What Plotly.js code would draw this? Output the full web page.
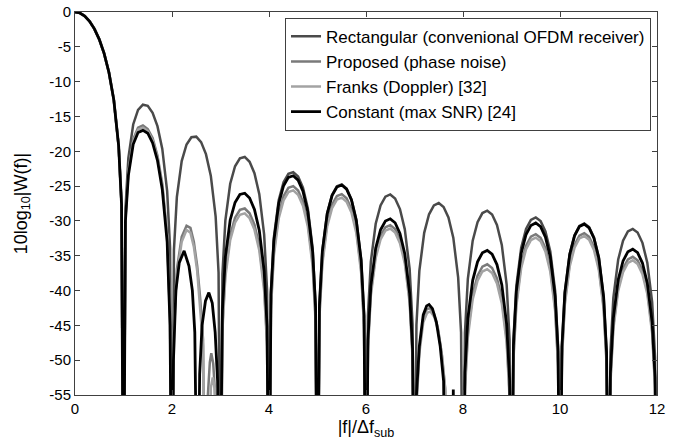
<!DOCTYPE html>
<html>
<head>
<meta charset="utf-8">
<script src="https://cdn.plot.ly/plotly-3.0.1.min.js"></script>
<style>html,body{margin:0;padding:0;background:#fff;}#chart{width:692px;height:445px;}</style>
</head>
<body>
<div id="chart"></div>
<script>
// ---- series names ----
const seriesNames = [
  "Rectangular (convenional OFDM receiver)",
  "Proposed (phase noise)",
  "Franks (Doppler) [32]",
  "Constant (max SNR) [24]"
];

// ---- Rectangular ----
const rectX = [
  0,0.1,0.2,0.3,0.4,0.5,0.6,0.7,0.8,0.9,0.96,
  1,1.04,1.1,1.2,1.3,1.4,1.5,1.6,1.7,1.8,1.9,1.96,
  2,2.04,2.1,2.2,2.3,2.4,2.5,2.6,2.7,2.8,2.9,2.96,
  3,3.04,3.1,3.2,3.3,3.4,3.5,3.6,3.7,3.8,3.9,3.96,
  4,4.04,4.1,4.2,4.3,4.4,4.5,4.6,4.7,4.8,4.9,4.96,
  5,5.04,5.1,5.2,5.3,5.4,5.5,5.6,5.7,5.8,5.9,5.96,
  6,6.04,6.1,6.2,6.3,6.4,6.5,6.6,6.7,6.8,6.9,6.96,
  7,7.04,7.1,7.2,7.3,7.4,7.5,7.6,7.7,7.8,7.9,7.96,
  8,8.04,8.1,8.2,8.3,8.4,8.5,8.6,8.7,8.8,8.9,8.96,
  9,9.04,9.1,9.2,9.3,9.4,9.5,9.6,9.7,9.8,9.9,9.96,
  10,10.04,10.1,10.2,10.3,10.4,10.5,10.6,10.7,10.8,10.9,10.96,
  11,11.04,11.1,11.2,11.3,11.4,11.5,11.6,11.7,11.8,11.9,11.96,
  12
];
const rectY = [
  0,-0.14,-0.58,-1.33,-2.42,-3.92,-5.94,-8.69,-12.62,-19.23,-27.63,
  -80,-28.32,-20.97,-16.15,-14.06,-13.31,-13.47,-14.47,-16.39,-19.67,-25.72,-33.83,
  -80,-34.18,-26.59,-21.41,-19.02,-17.99,-17.90,-18.68,-20.41,-23.51,-29.39,-37.41,
  -80,-37.64,-29.97,-24.67,-22.15,-21.01,-20.82,-21.51,-23.15,-26.16,-31.96,-39.94,
  -80,-40.11,-32.40,-27.03,-24.45,-23.25,-23.01,-23.64,-25.23,-28.19,-33.95,-41.89,
  -80,-42.03,-34.29,-28.88,-26.27,-25.03,-24.75,-25.35,-26.90,-29.83,-35.56,-43.49,
  -80,-43.60,-35.85,-30.41,-27.77,-26.51,-26.20,-26.77,-28.30,-31.21,-36.92,-44.84,
  -80,-44.94,-37.17,-31.71,-29.05,-27.77,-27.44,-28.00,-29.51,-32.41,-38.10,-46.00,
  -80,-46.09,-38.31,-32.84,-30.17,-28.87,-28.53,-29.07,-30.57,-33.45,-39.13,-47.03,
  -80,-47.11,-39.32,-33.84,-31.15,-29.85,-29.50,-30.03,-31.52,-34.39,-40.06,-47.95,
  -80,-48.02,-40.23,-34.74,-32.04,-30.72,-30.37,-30.89,-32.37,-35.23,-40.89,-48.78,
  -80,-48.84,-41.05,-35.55,-32.85,-31.52,-31.16,-31.67,-33.15,-36.00,-41.65,-49.54,
  -80
];

// ---- Proposed (phase noise) ----
const propX = [
  0,0.1,0.2,0.3,0.4,0.5,0.6,0.7,0.8,0.9,0.96,
  1,1.04,1.1,1.2,1.3,1.4,1.5,1.6,1.7,1.8,1.9,1.96,
  2,2.04,2.1,2.2,2.3,2.38,2.45,2.52,2.58,2.64,2.69,2.74,2.78,2.81,2.85,2.89,2.92,
  3,3.04,3.1,3.2,3.3,3.4,3.5,3.6,3.7,3.8,3.9,3.96,
  4,4.04,4.1,4.2,4.3,4.4,4.5,4.6,4.7,4.8,4.9,4.96,
  5,5.04,5.1,5.2,5.3,5.4,5.5,5.6,5.7,5.8,5.9,5.96,
  6,6.04,6.1,6.2,6.3,6.4,6.5,6.6,6.7,6.8,6.9,6.96,
  7,7.04,7.1,7.18,7.25,7.32,7.4,7.48,7.56,7.63,7.67,
  8,8.04,8.1,8.2,8.3,8.4,8.5,8.6,8.7,8.8,8.9,8.96,
  9,9.04,9.1,9.2,9.3,9.4,9.5,9.6,9.7,9.8,9.9,9.96,
  10,10.04,10.1,10.2,10.3,10.4,10.5,10.6,10.7,10.8,10.9,10.96,
  11,11.04,11.1,11.2,11.3,11.4,11.5,11.6,11.7,11.8,11.9,11.96,
  12
];
const propY = [
  0,-0.14,-0.58,-1.33,-2.42,-3.92,-5.94,-8.69,-12.62,-19.23,-27.63,
  -80,-29.5,-22.8,-18.3,-16.6,-16.3,-16.8,-18.1,-20.6,-24.7,-32.0,-44.0,
  -80,-45,-37,-32.3,-30.7,-31.0,-33,-36.5,-41,-47,-80,-55,-50.3,-49,-50.5,-55,-80,
  -80,-45.04,-37.37,-32.07,-29.55,-28.41,-28.22,-28.91,-30.55,-33.56,-39.36,-47.34,
  -80,-42.11,-34.40,-29.03,-26.45,-25.25,-25.01,-25.64,-27.23,-30.19,-35.95,-43.89,
  -80,-43.43,-35.69,-30.28,-27.67,-26.43,-26.15,-26.75,-28.30,-31.23,-36.96,-44.89,
  -80,-48.00,-40.25,-34.81,-32.17,-30.91,-30.60,-31.17,-32.70,-35.61,-41.32,-49.24,
  -80,-56,-48.5,-44,-42.7,-42.5,-43.3,-45.3,-49,-54,-80,
  -80,-53.79,-46.01,-40.54,-37.87,-36.57,-36.23,-36.77,-38.27,-41.15,-46.83,-54.73,
  -80,-49.51,-41.72,-36.24,-33.55,-32.25,-31.90,-32.43,-33.92,-36.79,-42.46,-50.35,
  -80,-49.42,-41.63,-36.14,-33.44,-32.12,-31.77,-32.29,-33.77,-36.63,-42.29,-50.18,
  -80,-52.84,-45.05,-39.55,-36.85,-35.52,-35.16,-35.67,-37.15,-40.00,-45.65,-53.54,
  -80
];

// ---- Franks (Doppler) ----
const franksX = [
  0,0.1,0.2,0.3,0.4,0.5,0.6,0.7,0.8,0.9,0.96,
  1,1.04,1.1,1.2,1.3,1.4,1.5,1.6,1.7,1.8,1.9,1.96,
  2,2.04,2.1,2.2,2.3,2.38,2.45,2.52,2.58,2.64,2.68,2.76,2.8,2.84,2.88,2.91,
  3,3.04,3.1,3.2,3.3,3.4,3.5,3.6,3.7,3.8,3.9,3.96,
  4,4.04,4.1,4.2,4.3,4.4,4.5,4.6,4.7,4.8,4.9,4.96,
  5,5.04,5.1,5.2,5.3,5.4,5.5,5.6,5.7,5.8,5.9,5.96,
  6,6.04,6.1,6.2,6.3,6.4,6.5,6.6,6.7,6.8,6.9,6.96,
  7,7.04,7.1,7.18,7.26,7.33,7.41,7.49,7.57,7.64,7.69,
  8,8.04,8.1,8.2,8.3,8.4,8.5,8.6,8.7,8.8,8.9,8.96,
  9,9.04,9.1,9.2,9.3,9.4,9.5,9.6,9.7,9.8,9.9,9.96,
  10,10.04,10.1,10.2,10.3,10.4,10.5,10.6,10.7,10.8,10.9,10.96,
  11,11.04,11.1,11.2,11.3,11.4,11.5,11.6,11.7,11.8,11.9,11.96,
  12
];
const franksY = [
  0,-0.14,-0.58,-1.33,-2.42,-3.92,-5.94,-8.69,-12.62,-19.23,-27.63,
  -80,-29.8,-23.1,-18.6,-16.9,-16.6,-17.1,-18.4,-20.9,-25.0,-32.3,-44.3,
  -80,-46,-37.8,-33,-31.3,-31.7,-33.7,-37.2,-42,-48,-80,-80,-54,-52.5,-54,-80,
  -80,-45.74,-38.07,-32.77,-30.25,-29.11,-28.92,-29.61,-31.25,-34.26,-40.06,-48.04,
  -80,-42.71,-35.00,-29.63,-27.05,-25.85,-25.61,-26.24,-27.83,-30.79,-36.55,-44.49,
  -80,-43.93,-36.19,-30.78,-28.17,-26.93,-26.65,-27.25,-28.80,-31.73,-37.46,-45.39,
  -80,-48.50,-40.75,-35.31,-32.67,-31.41,-31.10,-31.67,-33.20,-36.11,-41.82,-49.74,
  -80,-57,-49,-44.6,-43.2,-43.0,-43.8,-45.8,-49.5,-54.5,-80,
  -80,-54.49,-46.71,-41.24,-38.57,-37.27,-36.93,-37.47,-38.97,-41.85,-47.53,-55.43,
  -80,-50.01,-42.22,-36.74,-34.05,-32.75,-32.40,-32.93,-34.42,-37.29,-42.96,-50.85,
  -80,-49.82,-42.03,-36.54,-33.84,-32.52,-32.17,-32.69,-34.17,-37.03,-42.69,-50.58,
  -80,-53.34,-45.55,-40.05,-37.35,-36.02,-35.66,-36.17,-37.65,-40.50,-46.15,-54.04,
  -80
];

// ---- Constant (max SNR) ----
const constX = [
  0,0.1,0.2,0.3,0.4,0.5,0.6,0.7,0.8,0.9,0.96,
  1,1.04,1.1,1.2,1.3,1.4,1.5,1.6,1.7,1.8,1.9,1.96,
  2,2.03,2.08,2.15,2.25,2.35,2.42,2.47,2.53,2.57,2.62,2.69,2.76,2.83,2.89,2.94,2.98,
  3.04,3.1,3.2,3.3,3.4,3.5,3.6,3.7,3.8,3.9,3.96,
  4,4.04,4.1,4.2,4.3,4.4,4.5,4.6,4.7,4.8,4.9,4.96,
  5,5.04,5.1,5.2,5.3,5.4,5.5,5.6,5.7,5.8,5.9,5.96,
  6,6.04,6.1,6.2,6.3,6.4,6.5,6.6,6.7,6.8,6.9,6.96,
  7,7.04,7.1,7.18,7.25,7.3,7.37,7.45,7.53,7.6,7.64,7.77,7.8,7.83,
  8,8.04,8.1,8.2,8.3,8.4,8.5,8.6,8.7,8.8,8.9,8.96,
  9,9.04,9.1,9.2,9.3,9.4,9.5,9.6,9.7,9.8,9.9,9.96,
  10,10.04,10.1,10.2,10.3,10.4,10.5,10.6,10.7,10.8,10.9,10.96,
  11,11.04,11.1,11.2,11.3,11.4,11.5,11.6,11.7,11.8,11.9,11.96,
  12
];
const constY = [
  0,-0.14,-0.58,-1.33,-2.42,-3.92,-5.94,-8.69,-12.62,-19.23,-27.63,
  -80,-30,-23.5,-19,-17.3,-17.0,-17.4,-18.8,-21.3,-25.5,-33,-45,
  -80,-50,-40,-36,-34.3,-36.5,-40,-46,-80,-52,-45,-41.5,-40.3,-41.8,-46,-53,-80,
  -42.84,-35.17,-29.87,-27.35,-26.21,-26.02,-26.71,-28.35,-31.36,-37.16,-45.14,
  -80,-40.61,-32.90,-27.53,-24.95,-23.75,-23.51,-24.14,-25.73,-28.69,-34.45,-42.39,
  -80,-42.13,-34.39,-28.98,-26.37,-25.13,-24.85,-25.45,-27.00,-29.93,-35.66,-43.59,
  -80,-47.10,-39.35,-33.91,-31.27,-30.01,-29.70,-30.27,-31.80,-34.71,-40.42,-48.34,
  -80,-55,-48,-43.5,-42.2,-42.0,-42.6,-44.5,-48,-53,-80,-80,-54.2,-80,
  -80,-51.79,-44.01,-38.54,-35.87,-34.57,-34.23,-34.77,-36.27,-39.15,-44.83,-52.73,
  -80,-47.91,-40.12,-34.64,-31.95,-30.65,-30.30,-30.83,-32.32,-35.19,-40.86,-48.75,
  -80,-48.12,-40.33,-34.84,-32.14,-30.82,-30.47,-30.99,-32.47,-35.33,-40.99,-48.88,
  -80,-51.74,-43.95,-38.45,-35.75,-34.42,-34.06,-34.57,-36.05,-38.90,-44.55,-52.44,
  -80
];

// ---- ticks ----
const xTickVals = [0,2,4,6,8,10,12];
const xTickText = ["0","2","4","6","8","10","12"];
const yTickVals = [0,-5,-10,-15,-20,-25,-30,-35,-40,-45,-50,-55];
const yTickText = ["0","-5","-10","-15","-20","-25","-30","-35","-40","-45","-50","-55"];

const colors = ["#4a4a4a", "#7a7a7a", "#a3a3a3", "#000000"];
const widths = [2.5, 2.5, 2.5, 2.8];
const xs = [rectX, propX, franksX, constX];
const ys = [rectY, propY, franksY, constY];

const traces = seriesNames.map((name, i) => ({
  type: "scatter", mode: "lines", name: name,
  x: xs[i], y: ys[i],
  line: {color: colors[i], width: widths[i]},
  hoverinfo: "skip"
}));

const font = "Liberation Sans, Arial, sans-serif";
const axisCommon = {
  showgrid: false, zeroline: false,
  showline: true, linecolor: "#404040", linewidth: 1,
  mirror: "ticks", ticks: "inside", ticklen: 5, tickcolor: "#404040",
  tickfont: {family: font, size: 15, color: "#000"},
  tickmode: "array"
};

const layout = {
  width: 692, height: 445,
  margin: {l: 75, r: 35, t: 12, b: 50},
  paper_bgcolor: "#fff", plot_bgcolor: "#fff",
  showlegend: true,
  legend: {
    x: 0.9897, xanchor: "right", y: 0.985, yanchor: "top",
    bgcolor: "#fff", bordercolor: "#404040", borderwidth: 1,
    font: {family: font, size: 17, color: "#000"},
    tracegroupgap: 0
  },
  xaxis: Object.assign({}, axisCommon, {
    range: [0, 12], tickvals: xTickVals, ticktext: xTickText,
    title: {text: "|f|/Δf<sub>sub</sub>", font: {family: font, size: 18, color: "#000"}, standoff: 4}
  }),
  yaxis: Object.assign({}, axisCommon, {
    range: [-55, 0], tickvals: yTickVals, ticktext: yTickText,
    title: {text: "10log<sub>10</sub>|W(f)|", font: {family: font, size: 18, color: "#000"}, standoff: 17}
  })
};

Plotly.newPlot("chart", traces, layout, {staticPlot: true, displayModeBar: false});
</script>
</body>
</html>
